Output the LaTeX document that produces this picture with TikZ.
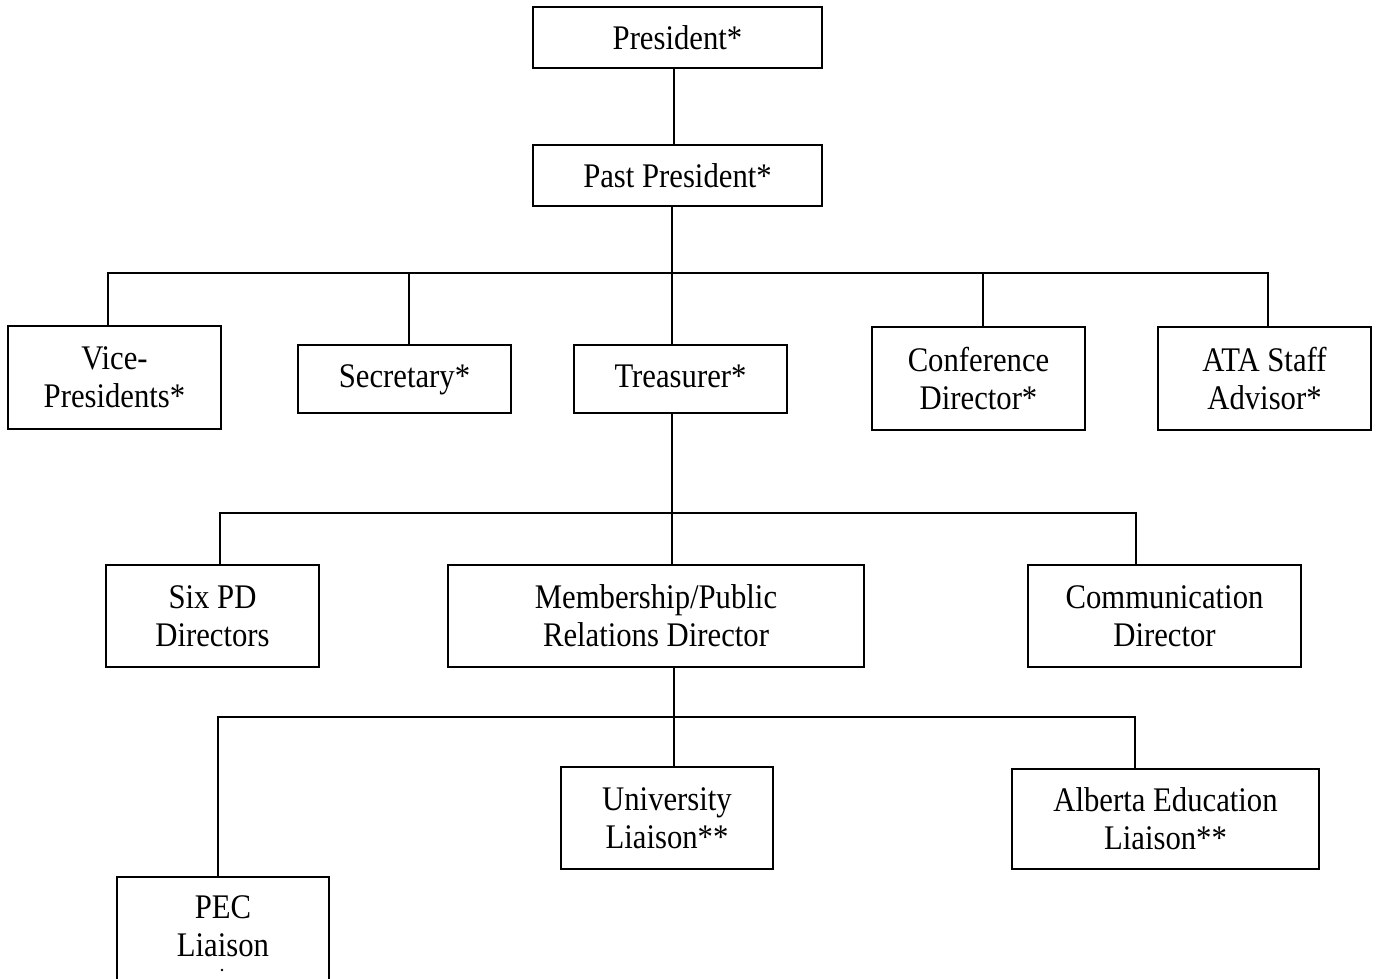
\documentclass[tikz,border=0pt]{standalone}
\usepackage{fontspec}
\setmainfont{Liberation Serif}[FakeStretch=0.89]
\begin{document}
\begin{tikzpicture}[x=1pt,y=-1pt,
  boxfont/.style={font=\fontsize{34.5}{38}\selectfont},
  box/.style={draw,line width=1.6pt,inner sep=0pt,align=center,boxfont},
  single/.style={text height=23pt,text depth=7pt},
  top/.style={text height=29pt,text depth=5pt},
  conn/.style={line width=1.6pt}]
\useasboundingbox (0,0) rectangle (1376,979);
% boxes: centre, width, height
\node[box,top,minimum width=289,minimum height=61] (pres) at (677.5,37.5) {President*};
\node[box,top,minimum width=289,minimum height=61] (past) at (677.5,175.5) {Past President*};
\node[box,minimum width=213,minimum height=103] (vp) at (114.5,377.5) {Vice-\\Presidents*};
\node[box,single,minimum width=213,minimum height=68] (sec) at (404.5,379) {Secretary*};
\node[box,single,minimum width=213,minimum height=68] (treas) at (680.5,379) {Treasurer*};
\node[box,minimum width=213,minimum height=103] (conf) at (978.5,378.5) {Conference\\Director*};
\node[box,minimum width=213,minimum height=103] (ata) at (1264.5,378.5) {ATA Staff\\Advisor*};
\node[box,minimum width=213,minimum height=102] (six) at (212.5,616) {Six PD\\Directors};
\node[box,minimum width=416,minimum height=102] (mem) at (656,616) {Membership/Public\\Relations Director};
\node[box,minimum width=273,minimum height=102] (comm) at (1164.5,616) {Communication\\Director};
\node[box,minimum width=212,minimum height=102] (uni) at (667,818) {University\\Liaison**};
\node[box,minimum width=307,minimum height=100] (alb) at (1165.5,819) {Alberta Education\\Liaison**};
\draw[line width=1.6pt] (117,990) coordinate (pecbl) -- (117,877) -- (329,877) -- (329,990) coordinate (pecbr);
\node[inner sep=0pt,align=center,boxfont,anchor=north] (pec) at (223,895) {PEC\\Liaison};
\fill (222,970) circle (1.3);
\coordinate (pectop) at (218,877);
% bus coordinates
\coordinate (b1) at (672,273);
\coordinate (b2) at (672,513);
\coordinate (b3) at (674,717);
% connectors
\draw[conn] (pres.south -| 674,0) -- (past.north -| 674,0);
\draw[conn] (past.south -| b1) -- (treas.north -| b1);
\draw[conn] (vp.north -| 108,0) |- (b1) -| (ata.north -| 1268,0);
\draw[conn] (sec.north -| 409,0) -- (b1 -| 409,0);
\draw[conn] (conf.north -| 983,0) -- (b1 -| 983,0);
\draw[conn] (treas.south -| b2) -- (mem.north -| b2);
\draw[conn] (six.north -| 220,0) |- (b2) -| (comm.north -| 1136,0);
\draw[conn] (mem.south -| b3) -- (uni.north -| b3);
\draw[conn] (pectop) |- (b3) -| (alb.north -| 1135,0);
\end{tikzpicture}
\end{document}
